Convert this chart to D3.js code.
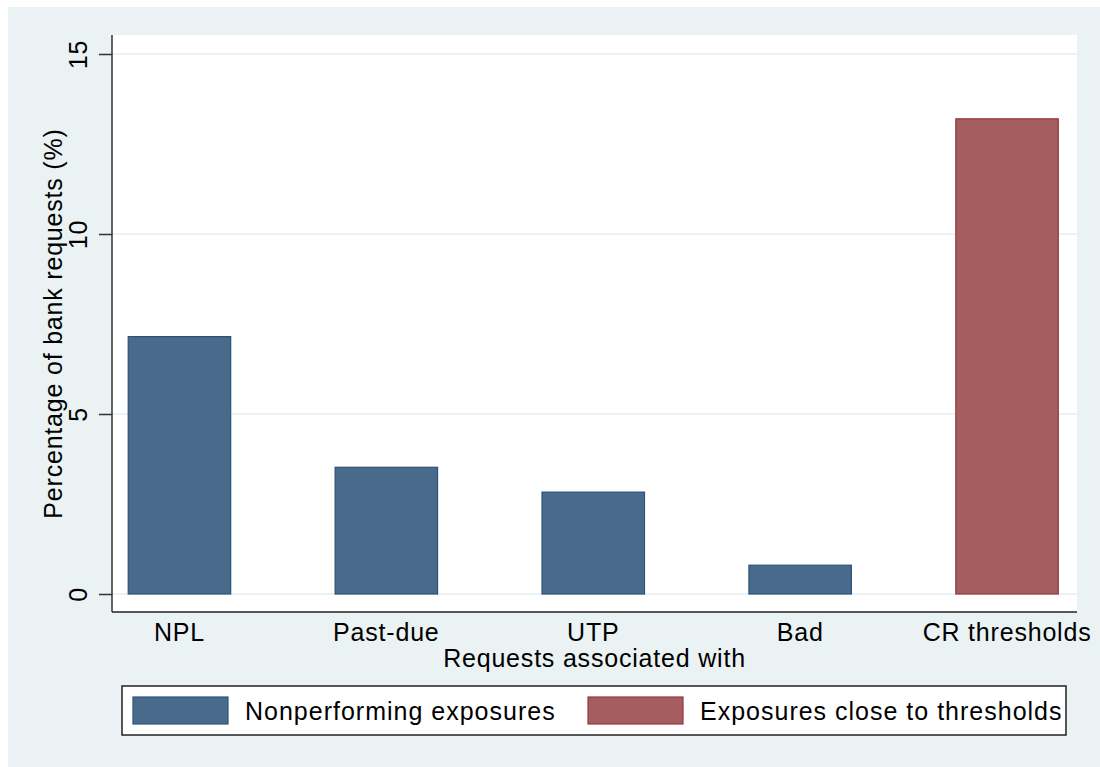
<!DOCTYPE html>
<html>
<head>
<meta charset="utf-8">
<script src="https://cdn.jsdelivr.net/npm/d3@7"></script>
<style>
  body { margin: 0; background: #ffffff; }
  text { font-family: "Liberation Sans", Arial, sans-serif; fill: #000; }
</style>
</head>
<body>
<svg></svg>
<script>
// values
var categories = ["NPL", "Past-due", "UTP", "Bad", "CR thresholds"];
var values = [7.15, 3.52, 2.83, 0.8, 13.2];
var groups = ["np", "np", "np", "np", "cr"];
var yTicks = [0, 5, 10, 15];
var legendLabels = ["Nonperforming exposures", "Exposures close to thresholds"];

var svgWidth = 1100, svgHeight = 767;
var plot = {left: 112, right: 1077, top: 35, bottom: 612};
var fills = {np: "#486b8b", cr: "#a55d60"};
var strokes = {np: "#2c5279", cr: "#93373e"};
var fs = 25;

var svg = d3.select("svg")
    .attr("width", svgWidth)
    .attr("height", svgHeight);

// outer background
svg.append("rect")
    .attr("x", 8).attr("y", 7)
    .attr("width", svgWidth - 8).attr("height", svgHeight - 7)
    .attr("fill", "#eaf2f3");

// plot region
svg.append("rect")
    .attr("x", plot.left).attr("y", plot.top)
    .attr("width", plot.right - plot.left).attr("height", plot.bottom - plot.top)
    .attr("fill", "#ffffff");

var x = d3.scaleBand()
    .domain(categories)
    .range([plot.left, plot.right - 2.5])
    .paddingInner(0.5)
    .paddingOuter(0.076);

var y = d3.scaleLinear()
    .domain([0, 15])
    .range([594, 54]);

// gridlines
svg.selectAll("line.grid")
    .data(yTicks)
    .enter()
    .append("line")
    .attr("class", "grid")
    .attr("x1", plot.left).attr("x2", plot.right)
    .attr("y1", function(d){ return y(d); })
    .attr("y2", function(d){ return y(d); })
    .attr("stroke", "#eaf2f3")
    .attr("stroke-width", 2);

// bars
svg.selectAll("rect.bar")
    .data(values)
    .enter()
    .append("rect")
    .attr("class", "bar")
    .attr("x", function(d, i){ return x(categories[i]) + 0.5; })
    .attr("width", x.bandwidth() - 1)
    .attr("y", function(d){ return y(d); })
    .attr("height", function(d){ return y(0) - y(d); })
    .attr("fill", function(d, i){ return fills[groups[i]]; })
    .attr("stroke", function(d, i){ return strokes[groups[i]]; })
    .attr("stroke-width", 1.2);

// y axis
var yAxis = svg.append("g")
    .attr("transform", "translate(" + plot.left + ",0)")
    .call(d3.axisLeft(y).tickValues(yTicks).tickSize(13).tickSizeOuter(0));
yAxis.select(".domain").remove();
yAxis.append("line")
    .attr("x1", 0).attr("x2", 0)
    .attr("y1", plot.top).attr("y2", plot.bottom)
    .attr("stroke", "#333").attr("stroke-width", 1.5);
yAxis.selectAll(".tick line").attr("stroke", "#333").attr("stroke-width", 1.5);
yAxis.selectAll(".tick text")
    .attr("x", 0).attr("y", 0).attr("dy", 0)
    .attr("transform", "translate(-25,0) rotate(-90)")
    .attr("text-anchor", "middle")
    .style("font-size", fs + "px")
    .style("letter-spacing", "0.8px")
    .attr("fill", "#000");

// x axis (labels only, line drawn across the plot region)
var xAxis = svg.append("g")
    .attr("transform", "translate(0," + plot.bottom + ")")
    .call(d3.axisBottom(x).tickSize(0).tickSizeOuter(0));
xAxis.select(".domain").remove();
xAxis.append("line")
    .attr("x1", plot.left).attr("x2", plot.right)
    .attr("stroke", "#222").attr("stroke-width", 1.5);
xAxis.selectAll(".tick text")
    .attr("y", 29).attr("dy", 0)
    .style("font-size", fs + "px")
    .style("letter-spacing", "0.8px")
    .attr("fill", "#000");

// axis titles
svg.append("text")
    .attr("x", (plot.left + plot.right) / 2)
    .attr("y", 667)
    .attr("text-anchor", "middle")
    .style("font-size", fs + "px")
    .style("letter-spacing", "0.8px")
    .text("Requests associated with");

svg.append("text")
    .attr("transform", "translate(62," + ((plot.top + plot.bottom) / 2) + ") rotate(-90)")
    .attr("text-anchor", "middle")
    .style("font-size", fs + "px")
    .style("letter-spacing", "0.8px")
    .text("Percentage of bank requests (%)");

// legend
var legend = svg.append("g");
legend.append("rect")
    .attr("x", 122).attr("y", 686)
    .attr("width", 944).attr("height", 49)
    .attr("fill", "#fff")
    .attr("stroke", "#222").attr("stroke-width", 1.5);

var legendX = [133, 588];
var legendKeys = ["np", "cr"];
var items = legend.selectAll("g.item")
    .data(legendLabels)
    .enter()
    .append("g")
    .attr("class", "item")
    .attr("transform", function(d, i){ return "translate(" + legendX[i] + ",697)"; });
items.append("rect")
    .attr("width", 95).attr("height", 27)
    .attr("fill", function(d, i){ return fills[legendKeys[i]]; })
    .attr("stroke", function(d, i){ return strokes[legendKeys[i]]; })
    .attr("stroke-width", 1.2);
items.append("text")
    .attr("x", 112).attr("y", 23)
    .style("font-size", fs + "px")
    .style("letter-spacing", "1px")
    .text(function(d){ return d; });
</script>
</body>
</html>
